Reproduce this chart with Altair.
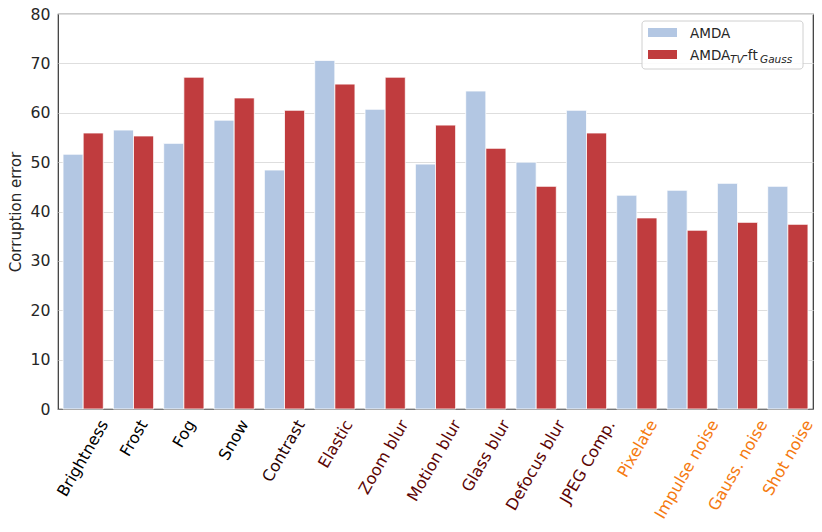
import altair as alt
import pandas as pd

categories = ["Brightness", "Frost", "Fog", "Snow", "Contrast", "Elastic", "Zoom blur",
              "Motion blur", "Glass blur", "Defocus blur", "JPEG Comp.", "Pixelate",
              "Impulse noise", "Gauss. noise", "Shot noise"]
amda = [51.6, 56.5, 53.8, 58.5, 48.4, 70.6, 60.7, 49.6, 64.4, 50.0, 60.5, 43.3, 44.3, 45.7, 45.1]
amda_tv = [55.9, 55.3, 67.2, 63.0, 60.5, 65.8, 67.2, 57.5, 52.8, 45.1, 55.9, 38.7, 36.2, 37.8, 37.4]
series = ["AMDA", "AMDA_TV-ft_Gauss"]
y_ticks = [0, 10, 20, 30, 40, 50, 60, 70, 80]

black_group = ["Brightness", "Frost", "Fog", "Snow"]
brown_group = ["Contrast"]
red_group = ["Elastic", "Zoom blur", "Motion blur", "Glass blur", "Defocus blur", "JPEG Comp."]

rows = []
for c, a, b in zip(categories, amda, amda_tv):
    rows.append({"cat": c, "series": series[0], "val": a})
    rows.append({"cat": c, "series": series[1], "val": b})
df = pd.DataFrame(rows)

FONT = "DejaVu Sans"
XFS = 16
YFS = 15.7
TFS = 15
LFS = 13.5

def js_list(lst):
    return "[" + ",".join("'" + s + "'" for s in lst) + "]"

label_color = alt.expr(
    f"indexof({js_list(black_group)}, datum.value) >= 0 ? '#000000' : "
    f"indexof({js_list(brown_group)}, datum.value) >= 0 ? '#2a0303' : "
    f"indexof({js_list(red_group)}, datum.value) >= 0 ? '#5c0505' : '#f57a10'"
)

# approximate rendered label width (em) -> shift so the rotated label is centred like matplotlib
width_em = ("(0.6*length(datum.label)"
            " - 0.27*length(replace(datum.label, regexp('[^iltfjrI .]','g'), ''))"
            " + 0.12*length(replace(datum.label, regexp('[^A-HJ-Zmw]','g'), '')))")
label_offset = alt.expr(f"{width_em}*{XFS}/4")

bars = alt.Chart(df).mark_bar(stroke="white", strokeWidth=0.8).encode(
    x=alt.X("cat:N", sort=categories, title=None,
            scale=alt.Scale(paddingInner=0.2, paddingOuter=0.1),
            axis=alt.Axis(labelAngle=-60, labelAlign="right", labelBaseline="middle",
                          labelPadding=12, labelOffset=label_offset,
                          ticks=False, domain=True, domainColor="#777777", domainWidth=1.2,
                          labelFont=FONT, labelFontSize=XFS, labelColor=label_color,
                          labelOverlap=False, labelBound=False, labelFlush=False)),
    xOffset=alt.XOffset("series:N", sort=series),
    y=alt.Y("val:Q", title="Corruption error",
            scale=alt.Scale(domain=[0, 80], nice=False),
            axis=alt.Axis(values=y_ticks, ticks=False, domain=False, labelPadding=8,
                          labelFont=FONT, labelFontSize=YFS, labelColor="#262626",
                          titleFont=FONT, titleFontSize=TFS, titleFontWeight="normal",
                          titleColor="#262626", titlePadding=7,
                          grid=True, gridColor="#dedede", gridWidth=1.2)),
    color=alt.Color("series:N", sort=series, legend=None,
                    scale=alt.Scale(domain=series, range=["#b3c7e3", "#c03c3e"])),
)

one = alt.Data(values=[{"a": 1}])

legend_box = alt.Chart(one).mark_rect(fill="white", stroke="#cccccc", strokeWidth=1,
                                      cornerRadius=3, opacity=0.9).encode(
    x=alt.value(584), x2=alt.value(745), y=alt.value(7), y2=alt.value(55))
sw1 = alt.Chart(one).mark_rect(fill="#b3c7e3").encode(
    x=alt.value(590), x2=alt.value(619), y=alt.value(14), y2=alt.value(23))
sw2 = alt.Chart(one).mark_rect(fill="#c03c3e").encode(
    x=alt.value(590), x2=alt.value(619), y=alt.value(36), y2=alt.value(45))

def txt(s, x, y, size=LFS, style="normal"):
    return alt.Chart(one).mark_text(text=s, align="left", baseline="alphabetic",
                                    font=FONT, fontSize=size, fontStyle=style,
                                    color="#262626").encode(x=alt.value(x), y=alt.value(y))

legend = [legend_box, sw1, sw2,
          txt("AMDA", 632, 24.3),
          txt("AMDA", 632, 45.8),
          txt("TV", 672, 48.5, 10.5, "italic"),
          txt("-ft", 685, 45.8),
          txt("Gauss", 702, 48.5, 10.5, "italic")]

chart = alt.layer(bars, *legend).properties(
    width=755, height=395,
    padding={"left": 50, "top": 6, "right": 1, "bottom": 115},
    autosize=alt.AutoSizeParams(type="none"),
    background="white",
).configure_view(stroke="#333333", strokeWidth=1.2)

chart.save("out.html", embed_options={"renderer": "svg", "actions": False})
